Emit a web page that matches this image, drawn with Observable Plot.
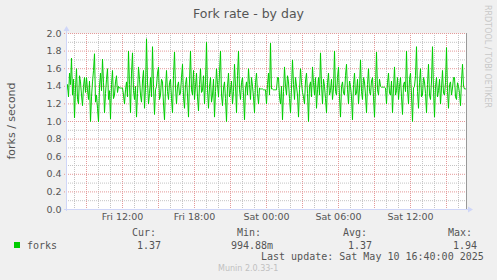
<!DOCTYPE html>
<html><head><meta charset="utf-8">
<script src="https://cdn.jsdelivr.net/npm/d3@7"></script>
<script src="https://cdn.jsdelivr.net/npm/@observablehq/plot@0.6"></script>
<style>html,body{margin:0;padding:0;background:#F0F0F0;} svg{display:block}</style>
</head><body><div id="chart"></div><script>
const title = "Fork rate - by day";
const yLabel = "forks / second";
const seriesName = "forks";
const startTime = new Date(2025, 4, 9, 7, 20);
const endTime = new Date(2025, 4, 10, 16, 40);
const stepMinutes = 5;
const forks = [
  1.35, 1.42, 1.28, 1.55, 1.42, 1.72, 1.30, 1.48, 1.04, 1.38, 1.60, 1.25, 1.20, 1.52, 1.45, 1.30, 1.18, 1.40, 1.50, 1.33,
  1.50, 1.36, 1.25, 1.46, 1.00, 1.28, 1.45, 1.58, 1.77, 1.22, 1.30, 1.15, 0.995, 1.40, 1.55, 1.35, 1.71, 1.44, 1.10, 1.32,
  1.48, 1.60, 1.25, 1.35, 1.03, 1.42, 1.58, 1.26, 1.30, 1.45, 1.52, 1.33, 1.40, 1.38, 1.38, 1.38, 1.38, 1.30, 1.20, 1.36,
  1.45, 1.28, 1.80, 1.42, 1.10, 1.55, 1.78, 1.35, 1.25, 1.40, 1.05, 1.32, 1.62, 1.48, 1.30, 1.22, 1.46, 1.58, 1.15, 1.38,
  1.94, 1.45, 1.20, 1.32, 1.50, 1.28, 1.85, 1.40, 1.08, 1.36, 1.40, 1.55, 1.62, 1.25, 1.30, 1.48, 1.45, 1.20, 1.02, 1.38,
  1.58, 1.34, 1.25, 1.44, 1.48, 1.26, 1.10, 1.52, 1.79, 1.38, 1.20, 1.40, 1.45, 1.30, 1.32, 1.50, 1.65, 1.28, 1.15, 1.42,
  1.50, 1.30, 1.05, 1.46, 1.80, 1.36, 1.30, 1.58, 1.25, 1.40, 1.55, 1.28, 1.12, 1.42, 1.60, 1.33, 1.35, 1.52, 1.20, 1.45,
  1.90, 1.36, 1.15, 1.40, 1.50, 1.22, 1.30, 1.48, 1.05, 1.34, 1.60, 1.42, 1.28, 1.55, 1.80, 1.30, 1.18, 1.38, 1.45, 1.26,
  1.00, 1.40, 1.55, 1.28, 1.35, 1.46, 1.20, 1.34, 1.65, 1.40, 1.10, 1.52, 1.80, 1.36, 1.25, 1.44, 1.50, 1.30, 1.02, 1.38,
  1.45, 1.30, 1.60, 1.42, 1.25, 1.50, 1.40, 1.28, 1.10, 1.44, 1.55, 1.32, 1.20, 1.38, 1.37, 1.37, 1.37, 1.36, 1.36, 1.36,
  1.20, 1.42, 1.55, 1.30, 1.89, 1.37, 1.37, 1.36, 1.36, 1.36, 1.36, 1.50, 1.50, 1.28, 1.20, 1.40, 1.02, 1.34, 1.62, 1.40,
  1.30, 1.52, 1.45, 1.26, 1.10, 1.38, 1.70, 1.42, 1.25, 1.50, 1.40, 1.30, 1.05, 1.36, 1.60, 1.44, 1.33, 1.28, 1.20, 1.46,
  1.55, 1.32, 1.00, 1.40, 1.45, 1.28, 1.62, 1.44, 1.30, 1.50, 1.15, 1.36, 1.50, 1.30, 1.78, 1.42, 1.20, 1.48, 1.40, 1.26,
  1.10, 1.44, 1.55, 1.30, 1.35, 1.48, 1.25, 1.38, 1.80, 1.34, 1.30, 1.50, 1.62, 1.28, 1.05, 1.40, 1.45, 1.32, 1.30, 1.52,
  1.65, 1.36, 1.20, 1.46, 1.40, 1.28, 1.02, 1.42, 1.55, 1.30, 1.32, 1.48, 1.20, 1.38, 1.70, 1.34, 1.25, 1.50, 1.45, 1.30,
  1.10, 1.42, 1.60, 1.34, 1.30, 1.46, 1.50, 1.28, 1.05, 1.40, 1.79, 1.36, 1.30, 1.48, 1.40, 1.39, 1.39, 1.39, 1.39, 1.38,
  1.20, 1.44, 1.55, 1.32, 1.30, 1.46, 1.10, 1.38, 1.62, 1.30, 1.35, 1.50, 1.25, 1.40, 1.50, 1.28, 1.08, 1.42, 1.45, 1.34,
  1.80, 1.36, 1.20, 1.48, 1.55, 1.30, 1.00, 1.38, 1.40, 1.52, 1.85, 1.34, 1.15, 1.44, 1.60, 1.28, 1.30, 1.50, 1.45, 1.32,
  1.10, 1.42, 1.65, 1.30, 1.25, 1.46, 1.85, 1.36, 1.05, 1.40, 1.50, 1.28, 1.35, 1.48, 1.20, 1.38, 1.58, 1.32, 1.30, 1.44,
  1.84, 1.34, 1.15, 1.42, 1.45, 1.30, 1.38, 1.50, 1.50, 1.28, 1.25, 1.44, 1.40, 1.32, 1.18, 1.46, 1.65, 1.40, 1.37, 1.37
];
const yTicks = [0.0, 0.2, 0.4, 0.6, 0.8, 1.0, 1.2, 1.4, 1.6, 1.8, 2.0];
const yMinorTicks = [0.1, 0.3, 0.5, 0.7, 0.9, 1.1, 1.3, 1.5, 1.7, 1.9];
const xLabelTicks = [
  new Date(2025, 4, 9, 12), new Date(2025, 4, 9, 18),
  new Date(2025, 4, 10, 0), new Date(2025, 4, 10, 6), new Date(2025, 4, 10, 12)
];
const legendHeaders = ["Cur:", "Min:", "Avg:", "Max:"];
const legendValues = ["1.37", "994.88m", "1.37", "1.94"];
const lastUpdate = "Last update: Sat May 10 16:40:00 2025";
const version = "Munin 2.0.33-1";
const watermark = "RRDTOOL / TOBI OETIKER";

const data = forks.map((v, i) => ({t: new Date(startTime.getTime() + i * stepMinutes * 60000), v}));
const minorX = d3.timeHour.range(startTime, endTime);
const majorX = d3.timeHour.every(3).range(startTime, endTime);
const fmt = d3.timeFormat("%a %H:%M");

const chart = Plot.plot({
  width: 497, height: 280,
  marginLeft: 66, marginRight: 31, marginTop: 33, marginBottom: 71,
  style: {background: "#F0F0F0", fontFamily: "DejaVu Sans", fontSize: "9.5px", color: "#555"},
  x: {type: "time", domain: [startTime, endTime], axis: null},
  y: {domain: [0, 2], axis: null},
  marks: [
    Plot.frame({fill: "white", stroke: null}),
    Plot.ruleX(minorX, {stroke: "#c4c4c4", strokeDasharray: "1,1"}),
    Plot.ruleY(yMinorTicks, {stroke: "#c4c4c4", strokeDasharray: "1,1"}),
    Plot.ruleX(majorX, {stroke: "#e49a9a", strokeDasharray: "1,1", insetBottom: -2}),
    Plot.ruleY(yTicks, {stroke: "#e49a9a", strokeDasharray: "1,1", insetLeft: -2}),
    Plot.line(data, {x: "t", y: "v", stroke: "#00CC00", strokeWidth: 1}),
    Plot.ruleX([endTime], {stroke: "#999"}),
    Plot.axisY({ticks: yTicks, tickFormat: d => d.toFixed(1), tickSize: 0, tickPadding: 5, label: null}),
    Plot.axisX({ticks: xLabelTicks, tickFormat: fmt, tickSize: 0, tickPadding: 4, label: null})
  ]
});
document.getElementById("chart").appendChild(chart);

const svg = d3.select(chart);
const xs = chart.scale("x"), ys = chart.scale("y");
const x0 = xs.apply(startTime), x1 = xs.apply(endTime);
const yb = ys.apply(0), yt = ys.apply(2);
const axisColor = "#CFD6F8";
svg.append("line").attr("x1", x0 + 0.5).attr("x2", x0 + 0.5).attr("y1", yb + 2).attr("y2", yt - 4).attr("stroke", axisColor);
svg.append("path").attr("d", `M${x0 - 2.5},${yt - 2}L${x0 + 3.5},${yt - 2}L${x0 + 0.5},${yt - 7}Z`).attr("fill", axisColor);
svg.append("line").attr("x1", x0 - 2).attr("x2", x1 + 4).attr("y1", yb + 0.5).attr("y2", yb + 0.5).attr("stroke", axisColor);
svg.append("path").attr("d", `M${x1 + 2},${yb - 2.5}L${x1 + 2},${yb + 3.5}L${x1 + 7},${yb + 0.5}Z`).attr("fill", axisColor);

const txt = (s, x, y, opts = {}) => svg.append("text").attr("x", x).attr("y", y)
  .attr("fill", opts.fill || "#555").attr("font-family", opts.family || "DejaVu Sans")
  .attr("font-size", opts.size || 10).attr("text-anchor", opts.anchor || "start").text(s);

txt(title, 248.5, 18, {anchor: "middle", size: 12.5});
svg.append("text").attr("transform", `translate(15,${(yb + yt) / 2}) rotate(-90)`)
  .attr("text-anchor", "middle").attr("fill", "#555").attr("font-family", "DejaVu Sans")
  .attr("font-size", 11).text(yLabel);
svg.append("text").attr("transform", `translate(485,5) rotate(90)`)
  .attr("text-anchor", "start").attr("fill", "#c8c8c8").attr("font-family", "DejaVu Sans")
  .attr("font-size", 8).text(watermark);

const mono = "DejaVu Sans Mono";
const headerX = [132, 237, 343, 448];
const valueX = [137, 231, 348, 453];
legendHeaders.forEach((h, i) => txt(h, headerX[i], 236, {family: mono}));
svg.append("rect").attr("x", 14).attr("y", 242).attr("width", 6).attr("height", 6).attr("fill", "#00CC00");
txt(seriesName, 27, 249, {family: mono});
legendValues.forEach((v, i) => txt(v, valueX[i], 249, {family: mono}));
txt(lastUpdate, 261, 260, {family: mono});
txt(version, 218, 271, {fill: "#c0c0c0", size: 8});
</script></body></html>
